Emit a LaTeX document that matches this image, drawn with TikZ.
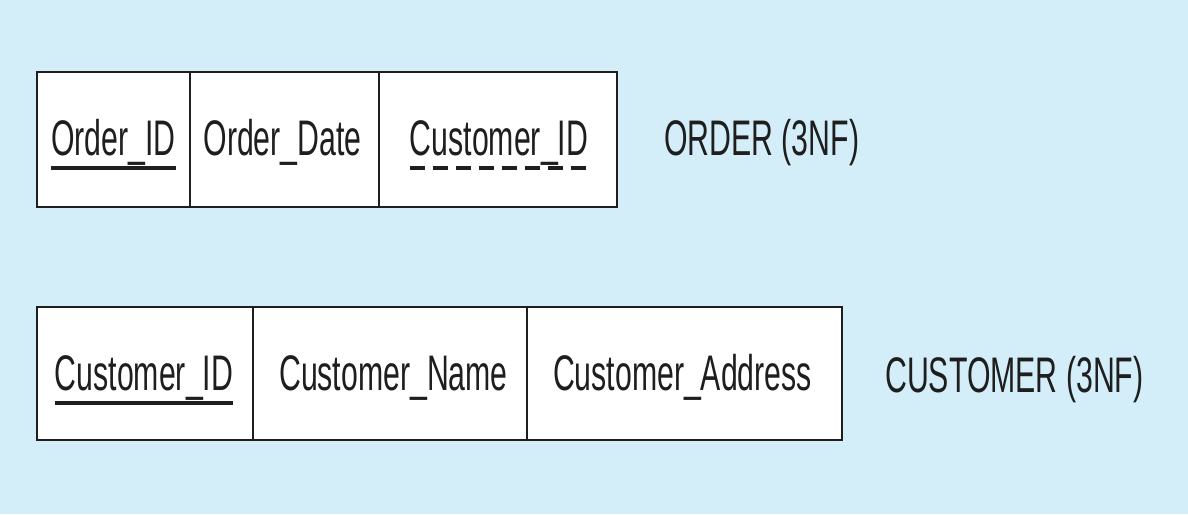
\documentclass[tikz,border=0pt]{standalone}
\usepackage{fontspec}
\setmainfont{Liberation Sans}
\usepackage{graphicx}
\definecolor{bgblue}{HTML}{D3EDF9}
\definecolor{ink}{HTML}{1E1E1E}
\newcommand{\narrow}[1]{\scalebox{0.605}[1]{#1}}
\begin{document}
\begin{tikzpicture}[x=1pt,y=-1pt,
  cell/.style={draw=ink, line width=2.4pt, fill=white, inner sep=0pt, anchor=center},
  lbl/.style={inner sep=0pt, anchor=base, text=ink, font=\fontsize{50}{60}\selectfont},
  pk/.style={ink, line width=3.5pt},
  fk/.style={ink, line width=3.5pt, dash pattern=on 15.5pt off 7.5pt}]
\fill[bgblue] (0,0) rectangle (1188,514);
\useasboundingbox (0,0) rectangle (1188,514);
% ORDER table
\node[cell, minimum width=153, minimum height=135] (oc1) at (113.5,139.5) {};
\node[cell, minimum width=189, minimum height=135] (oc2) at (284.5,139.5) {};
\node[cell, minimum width=238, minimum height=135] (oc3) at (498,139.5) {};
\node[lbl] (ot1) at (113.5,155) {\narrow{Order\_ID}};
\node[lbl] (ot2) at (282.5,155) {\narrow{Order\_Date}};
\node[lbl] (ot3) at (499,155) {\narrow{Customer\_ID}};
\draw[pk] ([yshift=-13pt]ot1.base west) -- ([yshift=-13pt]ot1.base east);
\coordinate (fks) at ([yshift=-13pt]ot3.base west);
\coordinate (fke) at ([yshift=-13pt,xshift=-0.5pt]ot3.base east);
\draw[fk] (fks) -- (fke);
\node[lbl, anchor=base west] (olab) at (664,155) {\narrow{ORDER (3NF)}};
% CUSTOMER table
\node[cell, minimum width=216, minimum height=133] (cc1) at (145,373.5) {};
\node[cell, minimum width=274, minimum height=133] (cc2) at (390,373.5) {};
\node[cell, minimum width=315, minimum height=133] (cc3) at (684.5,373.5) {};
\node[lbl] (ct1) at (144,390) {\narrow{Customer\_ID}};
\node[lbl] (ct2) at (393.5,390) {\narrow{Customer\_Name}};
\node[lbl] (ct3) at (682.5,390) {\narrow{Customer\_Address}};
\draw[pk] ([yshift=-13pt]ct1.base west) -- ([yshift=-13pt]ct1.base east);
\node[lbl, anchor=base west] (clab) at (885,392) {\narrow{CUSTOMER (3NF)}};
\end{tikzpicture}
\end{document}
